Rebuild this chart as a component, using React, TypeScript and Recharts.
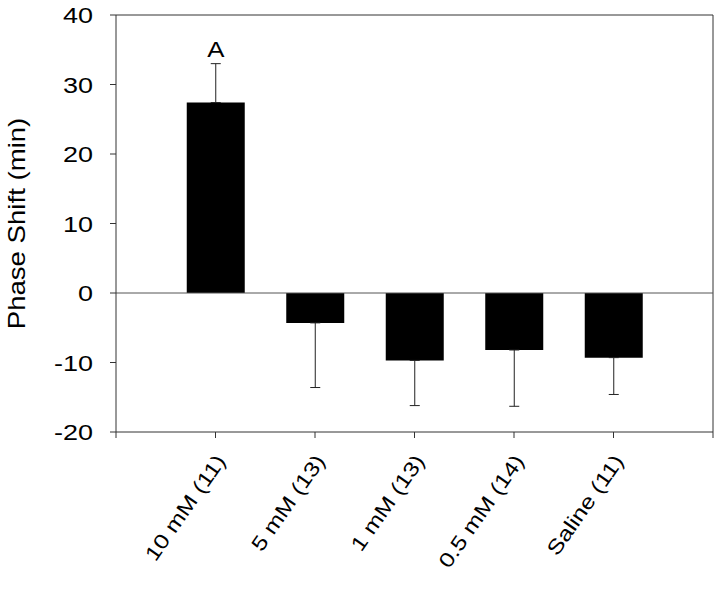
import React from 'react'
import {
  BarChart,
  Bar,
  XAxis,
  YAxis,
  ErrorBar,
  ReferenceLine,
  LabelList,
} from 'recharts'

// doses, with n in brackets
const groups = ['10 mM (11)', '5 mM (13)', '1 mM (13)', '0.5 mM (14)', 'Saline (11)']
// mean phase shift (min)
const shifts = [27.4, -4.3, -9.7, -8.2, -9.3]
// SEM, drawn on one side only (away from zero)
const sems = [5.6, 9.3, 6.5, 8.1, 5.3]
const letters = ['A', '', '', '', '']
const yTicks = [-20, -10, 0, 10, 20, 30, 40]

const data = groups.map((g, i) => ({
  pos: i + 1,
  name: g,
  shift: shifts[i],
  err: shifts[i] >= 0 ? [0, sems[i]] : [sems[i], 0],
  letter: letters[i],
}))

// the original font is a wide Helvetica, so stretch Liberation Sans a bit
const font = '"Liberation Sans", Arial, sans-serif'
const widen = 1.2
const ink = '#000'
const axisColor = '#333'

const GroupTick = (props: any) => {
  const { x, y, payload } = props
  const label = data.find((d) => d.pos === payload.value)?.name ?? ''
  return (
    <text
      transform={`translate(${x + 11},${y + 21}) rotate(-55) scale(${widen},1)`}
      textAnchor="end"
      fontSize={20.5}
      fontFamily={font}
      fill={ink}
    >
      {label}
    </text>
  )
}

const ValueTick = (props: any) => {
  const { x, y, payload } = props
  return (
    <text
      transform={`translate(${x},${y}) scale(${widen},1)`}
      textAnchor="end"
      dy="0.36em"
      fontSize={22.5}
      fontFamily={font}
      fill={ink}
    >
      {payload.value}
    </text>
  )
}

const AxisTitle = (props: any) => {
  const vb = props.viewBox || { x: 0, y: 15, width: 116, height: 417 }
  return (
    <text
      transform={`translate(${vb.x + 25},${vb.y + vb.height / 2}) rotate(-90) scale(${widen},1)`}
      textAnchor="middle"
      fontSize={23}
      fontFamily={font}
      fill={ink}
    >
      Phase Shift (min)
    </text>
  )
}

const Letter = (props: any) => {
  const { x, y, width, value } = props
  if (!value) return null
  return (
    <text
      transform={`translate(${x + width / 2},${y - 46}) scale(${widen},1)`}
      textAnchor="middle"
      fontSize={21.5}
      fontFamily={font}
      fill={ink}
    >
      {value}
    </text>
  )
}

export default function App() {
  return (
    <div style={{ position: 'absolute', left: 0, top: 0, background: '#fff' }}>
      <BarChart
        width={720}
        height={589}
        data={data}
        margin={{ top: 15, right: 7, bottom: 7, left: 0 }}
      >
        <XAxis
          dataKey="pos"
          type="number"
          domain={[0, 6]}
          ticks={[0, 1, 2, 3, 4, 5, 6]}
          interval={0}
          height={150}
          tickSize={6}
          tick={<GroupTick />}
          stroke={axisColor}
          allowDataOverflow
        />
        <YAxis
          domain={[-20, 40]}
          ticks={yTicks}
          interval={0}
          width={116}
          tickSize={6}
          tickMargin={17}
          stroke={axisColor}
          tick={<ValueTick />}
          label={<AxisTitle />}
        />
        <ReferenceLine y={40} stroke={axisColor} />
        <ReferenceLine x={6} stroke={axisColor} />
        <ReferenceLine y={0} stroke="#555" />
        <Bar dataKey="shift" fill="#000" barSize={58} isAnimationActive={false}>
          <ErrorBar dataKey="err" direction="y" width={5} stroke="#222" strokeWidth={1} />
          <LabelList dataKey="letter" content={<Letter />} />
        </Bar>
      </BarChart>
    </div>
  )
}
